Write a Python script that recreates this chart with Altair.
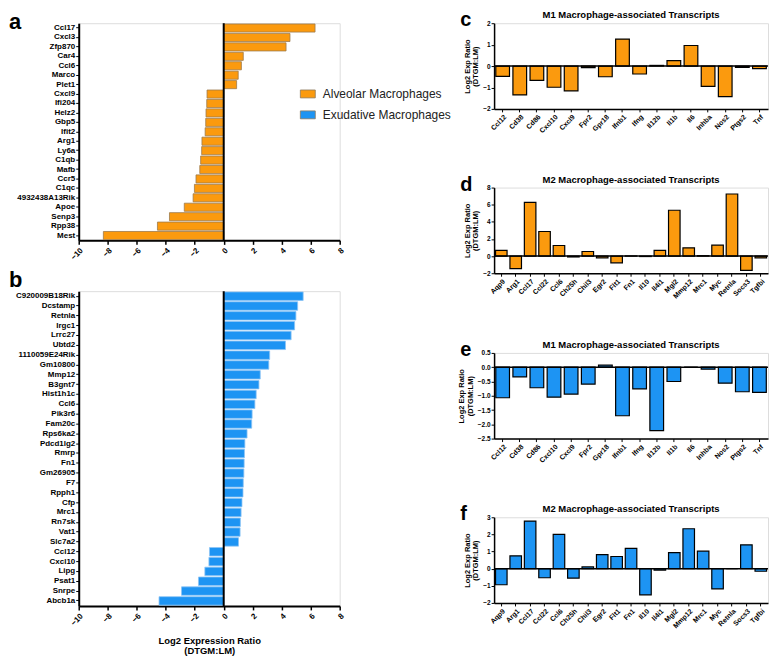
import altair as alt
import pandas as pd

FONT = "Liberation Sans"
ORANGE = "#FB9A0E"
BLUE = "#1D94F3"

# ---- panel a (alveolar) ----
a_genes = ["Ccl17", "Cxcl3", "Zfp870", "Car4", "Ccl6", "Marco", "Plet1", "Cxcl9", "Ifi204",
           "Helz2", "Gbp5", "Ifit2", "Arg1", "Ly6a", "C1qb", "Mafb", "Ccr5", "C1qc",
           "4932438A13Rik", "Apoe", "Senp3", "Rpp38", "Mest"]
a_vals = [6.3, 4.57, 4.3, 1.35, 1.22, 1.0, 0.89, -1.15, -1.17, -1.22, -1.24, -1.28, -1.5,
          -1.52, -1.59, -1.65, -1.91, -2.02, -2.11, -2.72, -3.74, -4.57, -8.3]

# ---- panel b (exudative) ----
b_genes = ["C920009B18Rik", "Dcstamp", "Retnla", "Irgc1", "Lrrc27", "Ubtd2", "1110059E24Rik",
           "Gm10800", "Mmp12", "B3gnt7", "Hist1h1c", "Ccl6", "Pik3r6", "Fam20c", "Rps6ka2",
           "Pdcd1lg2", "Rmrp", "Fn1", "Gm26905", "F7", "Rpph1", "Cfp", "Mrc1", "Rn7sk", "Vat1",
           "Slc7a2", "Ccl12", "Cxcl10", "Lipg", "Psat1", "Snrpe", "Abcb1a"]
b_vals = [5.48, 5.1, 4.98, 4.89, 4.65, 4.26, 3.17, 3.11, 2.52, 2.43, 2.24, 2.15, 1.96, 1.93,
          1.61, 1.46, 1.43, 1.41, 1.39, 1.35, 1.33, 1.26, 1.2, 1.15, 1.13, 1.02, -0.98, -1.02,
          -1.3, -1.74, -2.91, -4.46]

groups = ["Alveolar Macrophages", "Exudative Macrophages"]
ab_ticks = [-10, -8, -6, -4, -2, 0, 2, 4, 6, 8]

# ---- panels c-f ----
m1_genes = ["Ccl12", "Cd38", "Cd86", "Cxcl10", "Cxcl9", "Fpr2", "Gpr18", "Ifnb1", "Ifng",
            "Il12b", "Il1b", "Il6", "Inhba", "Nos2", "Ptgs2", "Tnf"]
m2_genes = ["Aqp9", "Arg1", "Ccl17", "Ccl22", "Ccl6", "Ch25h", "Chil3", "Egr2", "Flt1", "Fn1",
            "Il10", "Il4i1", "Mgl2", "Mmp12", "Mrc1", "Myc", "Retnla", "Socs3", "Tgfbi"]
c_vals = [-0.48, -1.35, -0.67, -0.99, -1.16, -0.07, -0.5, 1.26, -0.37, 0.03, 0.25, 0.96,
          -0.95, -1.43, -0.06, -0.12]
d_vals = [0.66, -1.47, 6.28, 2.87, 1.24, -0.1, 0.54, -0.2, -0.78, 0.02, -0.05, 0.66, 5.35,
          0.97, 0.05, 1.28, 7.25, -1.67, -0.2]
e_vals = [-1.07, -0.34, -0.72, -1.05, -0.94, -0.59, 0.07, -1.70, -0.76, -2.22, -0.5, 0.0,
          -0.07, -0.56, -0.86, -0.88]
f_vals = [-0.94, 0.75, 2.78, -0.53, 2.0, -0.55, 0.1, 0.82, 0.71, 1.18, -1.53, -0.08, 0.94,
          2.33, 1.02, -1.18, 0.0, 1.39, -0.15]

M1_TITLE = "M1 Macrophage-associated Transcripts"
M2_TITLE = "M2 Macrophage-associated Transcripts"


def text_mark(txt, dx, dy, size, align="left"):
    return alt.Chart(pd.DataFrame({"t": [txt]})).mark_text(
        font=FONT, fontSize=size, fontWeight="bold", align=align, baseline="alphabetic",
        color="black"
    ).encode(text="t:N", x=alt.value(dx), y=alt.value(dy))


def hbar_panel(genes, vals, grp, fill, stroke, ch, width, height, with_legend, xtitle):
    df = pd.DataFrame({"gene": genes, "val": vals, "grp": grp})
    y = alt.Y("gene:N", sort=None,
              scale=alt.Scale(paddingInner=0.14, paddingOuter=0.08),
              axis=alt.Axis(title=None, labelFont=FONT, labelFontSize=8, labelFontWeight="bold",
                            labelColor="black", tickColor="black", tickSize=3, tickWidth=1,
                            labelPadding=1, domainColor="black", domainWidth=2,
                            labelOverlap=False))
    xaxis = dict(values=ab_ticks, labelAngle=-45, grid=False, labelFont=FONT, labelFontSize=8,
                 labelFontWeight="bold", labelColor="black", tickColor="black", tickSize=4,
                 tickWidth=1.5, domainColor="black", domainWidth=2, labelPadding=2,
                 labelOverlap=False, labelFlush=False, labelBound=False)
    if xtitle:
        xaxis.update(title=xtitle, titleFont=FONT, titleFontSize=9.5, titleFontWeight="bold",
                     titleColor="black", titlePadding=8, titleLineHeight=11)
    else:
        xaxis.update(title=None)
    x = alt.X("val:Q", scale=alt.Scale(domain=[-10, 8], nice=False, zero=False),
              axis=alt.Axis(**xaxis))
    if with_legend:
        color = alt.Color("grp:N", scale=alt.Scale(domain=groups, range=[ORANGE, BLUE]),
                          legend=alt.Legend(orient="none", legendX=222, legendY=63, title=None,
                                            labelFont=FONT, labelFontSize=12, labelColor="#222",
                                            symbolType="M-1,-0.53H1V0.53H-1Z", symbolSize=225,
                                            symbolStrokeColor="#8d7a5f", symbolStrokeWidth=0.8,
                                            rowPadding=7, labelOffset=7, padding=0))
        bars = alt.Chart(df).mark_bar(stroke=stroke, strokeWidth=0.8).encode(
            y=y, x=x, x2=alt.datum(0), color=color)
    else:
        bars = alt.Chart(df).mark_bar(fill=fill, stroke=stroke, strokeWidth=0.8).encode(
            y=y, x=x, x2=alt.datum(0))
    zero = alt.Chart(pd.DataFrame({"val": [0]})).mark_rule(color="black", strokeWidth=2).encode(
        x=x)
    return alt.layer(bars, zero, ch).properties(width=width, height=height)


def vbar_panel(genes, vals, fill, title, ch, dom, ticks, fmt, width, height):
    df = pd.DataFrame({"gene": genes, "val": vals})
    x = alt.X("gene:N", sort=None, scale=alt.Scale(paddingInner=0.2, paddingOuter=0.1),
              axis=alt.Axis(title=None, labelAngle=-45, labelFont=FONT, labelFontSize=7,
                            labelFontWeight="bold", labelColor="black", tickColor="black",
                            tickSize=3, tickWidth=1, domainColor="black", domainWidth=1.5,
                            labelPadding=1, labelOverlap=False))
    y = alt.Y("val:Q", scale=alt.Scale(domain=dom, nice=False, zero=False),
              axis=alt.Axis(values=ticks, format=fmt, grid=False,
                            title=["Log2 Exp Ratio", "(DTGM:LM)"], titleFont=FONT,
                            titleFontSize=7.5, titleFontWeight="bold", titleColor="black",
                            titlePadding=3, titleLineHeight=8.5, labelFont=FONT, labelFontSize=6.5,
                            labelFontWeight="bold", labelColor="black", tickColor="black",
                            tickSize=3, tickWidth=1, domainColor="black", domainWidth=1.5,
                            labelPadding=1, labelOverlap=False, labelFlush=False,
                            labelBound=False))
    bars = alt.Chart(df).mark_bar(fill=fill, stroke="black", strokeWidth=1.2).encode(
        x=x, y=y, y2=alt.datum(0))
    zero = alt.Chart(pd.DataFrame({"val": [0]})).mark_rule(color="black", strokeWidth=1.5).encode(
        y=y)
    ttl = text_mark(title, width / 2, -5, 9.5, align="center")
    return alt.layer(bars, zero, ttl, ch).properties(width=width, height=height)


pa = hbar_panel(a_genes, a_vals, groups[0], ORANGE, "#9c7a4c", text_mark("a", -70, 6, 22),
                262, 218, True, None)
pb = hbar_panel(b_genes, b_vals, groups[1], BLUE, "#8cc4f5", text_mark("b", -70, -4, 22),
                262, 316, False, ["Log2 Expression Ratio", "(DTGM:LM)"])

W = 275
H = 86
pc = vbar_panel(m1_genes, c_vals, ORANGE, M1_TITLE, text_mark("c", -34, 3, 20), [-2, 2],
                [-2, -1, 0, 1, 2], "d", W, H)
pd_ = vbar_panel(m2_genes, d_vals, ORANGE, M2_TITLE, text_mark("d", -34, 3, 20), [-2, 8],
                 [-2, 0, 2, 4, 6, 8], "d", W, H)
pe = vbar_panel(m1_genes, e_vals, BLUE, M1_TITLE, text_mark("e", -34, 3, 20), [-2.5, 0.5],
                [-2.5, -2.0, -1.5, -1.0, -0.5, 0.0, 0.5], ".1f", W, H)
pf = vbar_panel(m2_genes, f_vals, BLUE, M2_TITLE, text_mark("f", -34, 3, 20), [-2, 3],
                [-2, -1, 0, 1, 2, 3], "d", W, H)

left = alt.vconcat(pa, pb, spacing=6)
right = alt.vconcat(pc, pd_, pe, pf, spacing=39)

chart = alt.hconcat(left, right, spacing=111).properties(padding=0).configure_view(
    stroke=None
).configure_axis(
    labelOverlap=False, labelFlush=False, labelBound=False
).configure(font=FONT)

chart.save("out.html", embed_options={"renderer": "svg", "actions": False})
